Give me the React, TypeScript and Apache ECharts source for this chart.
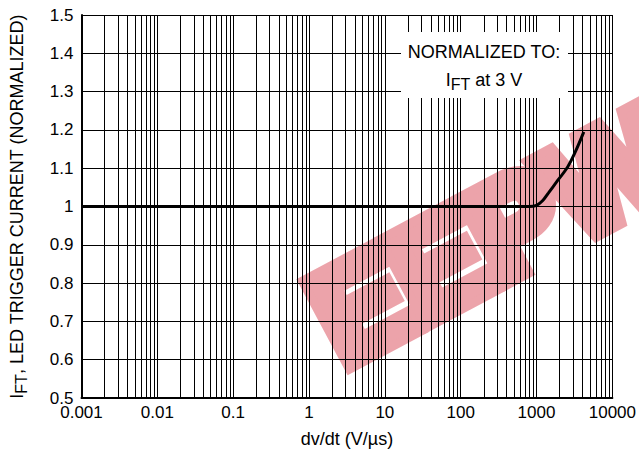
import React, { useEffect, useRef } from "react";
import * as echarts from "echarts";

const dvdt = [0.001, 0.01, 0.1, 1, 10, 100, 500, 800, 1000, 1200, 1430, 1900, 2570, 3200, 4200];
const ift = [1.0, 1.0, 1.0, 1.0, 1.0, 1.0, 1.0, 1.0, 1.003, 1.015, 1.035, 1.068, 1.103, 1.14, 1.195];
const minorSteps = [2, 3, 4, 5, 6, 7, 8, 9];
const decades = [0.001, 0.01, 0.1, 1, 10, 100, 1000];
const FONT = "'Liberation Sans', Arial, sans-serif";

export default function App() {
  const ref = useRef<HTMLDivElement>(null);
  useEffect(() => {
    const chart = echarts.init(ref.current!, null, { renderer: "svg" });
    const minorValues: number[][] = [];
    decades.forEach((d) => minorSteps.forEach((m) => minorValues.push([+(d * m).toPrecision(3)])));
    chart.setOption({
      animation: false,
      textStyle: { fontFamily: FONT },
      grid: { left: 71, right: 20, top: 15, bottom: 61 },
      xAxis: {
        type: "log",
        logBase: 10,
        min: 0.001,
        max: 10000,
        interval: 1,
        name: "dv/dt (V/\u00b5s)",
        nameLocation: "middle",
        nameGap: 32,
        nameTextStyle: { fontSize: 18, color: "#000", fontFamily: FONT },
        axisLine: { lineStyle: { color: "#000", width: 2 } },
        axisTick: { show: false },
        axisLabel: {
          color: "#000",
          fontSize: 17,
          margin: 6,
          fontFamily: FONT,
          formatter: (v: number) => {
            const e = Math.round(Math.log10(v));
            return e < 0 ? Math.pow(10, e).toFixed(-e) : String(Math.round(Math.pow(10, e)));
          },
        },
        splitLine: { show: true, lineStyle: { color: "#000", width: 1 } },
      },
      yAxis: {
        type: "value",
        min: 0.5,
        max: 1.5,
        interval: 0.1,
        name: "{i|I}{s|FT}{n|, LED TRIGGER CURRENT (NORMALIZED)}",
        nameLocation: "middle",
        nameGap: 52,
        nameTextStyle: {
          color: "#000",
          fontFamily: FONT,
          rich: {
            i: { fontSize: 18, color: "#000", fontFamily: FONT },
            s: { fontSize: 16, color: "#000", fontFamily: FONT, padding: [9, 0, 0, 0] },
            n: { fontSize: 18, color: "#000", fontFamily: FONT },
          },
        },
        axisLine: { show: true, lineStyle: { color: "#000", width: 2 } },
        axisTick: { show: false },
        axisLabel: {
          color: "#000",
          fontSize: 17,
          margin: 8,
          fontFamily: FONT,
          formatter: (v: number) => String(Number(v.toFixed(1))),
        },
        splitLine: { show: true, lineStyle: { color: "#000", width: 1 } },
      },
      series: [
        {
          type: "custom",
          silent: true,
          z: 1,
          data: minorValues,
          renderItem: (params: any, api: any) => {
            const v = api.value(0);
            const p1 = api.coord([v, 0.5]);
            const p2 = api.coord([v, 1.5]);
            const x = Math.round(p1[0]) + 0.5;
            return {
              type: "line",
              shape: { x1: x, y1: p1[1], x2: x, y2: p2[1] },
              style: { stroke: "#000", lineWidth: 1 },
            };
          },
        },
        {
          type: "line",
          data: dvdt.map((x, i) => [x, ift[i]]),
          smooth: 0.4,
          showSymbol: false,
          lineStyle: { color: "#000", width: 3 },
          z: 5,
        },
      ],
      graphic: [
        {
          type: "text",
          z: -10,
          x: 322,
          y: 327,
          rotation: 0.49,
          silent: true,
          style: {
            text: "EEPW",
            fontSize: 132,
            fontWeight: "bold",
            fontFamily: FONT,
            fill: "#eca3aa",
            stroke: "#eca3aa",
            lineWidth: 18,
            align: "left",
            verticalAlign: "middle",
          },
        },
        {
          type: "rect",
          z: 20,
          shape: { x: 401, y: 32, width: 167, height: 66 },
          style: { fill: "#fff" },
        },
        {
          type: "text",
          z: 21,
          x: 484,
          y: 52,
          style: {
            text: "NORMALIZED TO:",
            fontSize: 18,
            fontFamily: FONT,
            fill: "#000",
            align: "center",
            verticalAlign: "middle",
          },
        },
        {
          type: "text",
          z: 21,
          x: 484,
          y: 80,
          style: {
            text: "{i|I}{s|FT}{n| at 3 V}",
            fontFamily: FONT,
            fill: "#000",
            align: "center",
            verticalAlign: "middle",
            rich: {
              i: { fontSize: 18, fill: "#000", fontFamily: FONT },
              s: { fontSize: 16, fill: "#000", fontFamily: FONT, padding: [9, 0, 0, 0] },
              n: { fontSize: 18, fill: "#000", fontFamily: FONT },
            },
          },
        },
      ],
    });
    return () => chart.dispose();
  }, []);
  return <div ref={ref} style={{ width: 639, height: 459, position: "absolute", left: 0, top: 0, background: "#fff" }} />;
}
